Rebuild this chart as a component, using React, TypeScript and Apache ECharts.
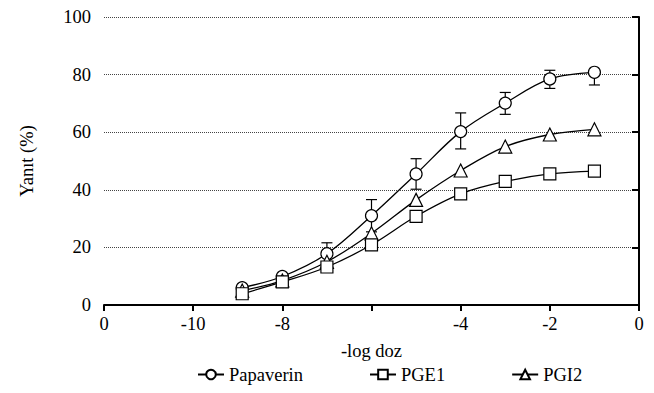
import React, { useEffect, useRef } from 'react';
import * as echarts from 'echarts';

const xDoses = [-8.9, -8, -7, -6, -5, -4, -3, -2, -1];
const papaverin = [6, 9.9, 17.8, 31, 45.5, 60.2, 70.1, 78.5, 80.8];
const papaverinErrUp = [0, 0, 3.8, 5.6, 5.3, 6.5, 3.7, 3.0, 0];
const papaverinErrDown = [0, 0, 3.8, 5.6, 5.3, 6.0, 3.9, 3.3, 4.4];
const pge1 = [3.9, 8.0, 13.2, 20.9, 30.8, 38.6, 42.9, 45.5, 46.5];
const pgi2 = [5, 8.5, 15, 24.9, 36.5, 46.7, 55, 59.2, 61];
const xTickValues = [-12, -10, -8, -6, -4, -2, 0];
const xTickLabels = ['0', '-10', '-8', '', '-4', '-2', '0'];
const seriesNames = ['Papaverin', 'PGE1', 'PGI2'];

const FONT = "'Liberation Serif', 'Times New Roman', serif";

export default function App() {
  const ref = useRef<HTMLDivElement>(null);
  useEffect(() => {
    document.body.style.margin = '0';
    const chart = echarts.init(ref.current!, null, { renderer: 'svg' });
    const pair = (ys: number[]) => xDoses.map((x, i) => [x, ys[i]]);
    const markerStyle = { color: '#fff', borderColor: '#000', borderWidth: 1.2 };
    const lineSeries = (name: string, ys: number[], symbol: string, size: number, z: number) => ({
      name,
      type: 'line',
      data: pair(ys),
      smooth: 0.35,
      symbol,
      symbolSize: size,
      showSymbol: true,
      lineStyle: { color: '#000', width: 1.3 },
      itemStyle: markerStyle,
      z,
    });
    chart.setOption({
      animation: false,
      textStyle: { fontFamily: FONT },
      grid: { left: 104, right: 15, top: 17, bottom: 88 },
      legend: {
        data: seriesNames,
        bottom: 4,
        left: 192,
        itemGap: 66,
        itemWidth: 26,
        itemHeight: 12,
        textStyle: { fontFamily: FONT, fontSize: 18.5, color: '#000' },
      },
      xAxis: {
        type: 'value',
        min: -12,
        max: 0,
        interval: 2,
        name: '-log doz',
        nameLocation: 'middle',
        nameGap: 36,
        nameTextStyle: { fontFamily: FONT, fontSize: 18.5, color: '#000' },
        axisLine: { lineStyle: { color: '#000', width: 2 } },
        axisTick: { show: true, length: 6, lineStyle: { color: '#000', width: 2 } },
        axisLabel: {
          fontFamily: FONT,
          fontSize: 18.5,
          color: '#000',
          margin: 9,
          formatter: (v: number) => {
            const i = xTickValues.indexOf(v);
            return i >= 0 ? xTickLabels[i] : '';
          },
        },
        splitLine: { show: false },
      },
      yAxis: {
        type: 'value',
        min: 0,
        max: 100,
        interval: 20,
        name: 'Yanıt (%)',
        nameLocation: 'middle',
        nameGap: 68,
        nameTextStyle: { fontFamily: FONT, fontSize: 18.5, color: '#000' },
        axisLine: { show: true, lineStyle: { color: '#000', width: 2 } },
        axisTick: { show: true, length: 7, lineStyle: { color: '#000', width: 2 } },
        axisLabel: { fontFamily: FONT, fontSize: 18.5, color: '#000', margin: 13 },
        splitLine: { show: true, lineStyle: { color: '#444', type: [1, 1], width: 1 } },
      },
      series: [
        {
          type: 'custom',
          name: 'err',
          z: 1,
          data: xDoses.map((x, i) => [x, papaverin[i], papaverinErrUp[i], papaverinErrDown[i]]),
          renderItem: (params: any, api: any) => {
            const x = api.value(0);
            const y = api.value(1);
            const up = api.value(2);
            const dn = api.value(3);
            const c = api.coord([x, y]);
            const capW = 5.5;
            const style = { stroke: '#000', lineWidth: 1.2 };
            const children: any[] = [];
            const addBar = (val: number) => {
              const t = api.coord([x, val]);
              children.push({ type: 'line', shape: { x1: c[0], y1: c[1], x2: t[0], y2: t[1] }, style });
              children.push({ type: 'line', shape: { x1: t[0] - capW, y1: t[1], x2: t[0] + capW, y2: t[1] }, style });
            };
            if (up > 0) addBar(y + up);
            if (dn > 0) addBar(y - dn);
            return { type: 'group', children };
          },
        },
        lineSeries('Papaverin', papaverin, 'circle', 12, 2),
        lineSeries('PGI2', pgi2, 'triangle', 13, 3),
        lineSeries('PGE1', pge1, 'rect', 12, 4),
      ],
    });
    return () => chart.dispose();
  }, []);
  return <div ref={ref} style={{ width: 654, height: 393 }} />;
}
